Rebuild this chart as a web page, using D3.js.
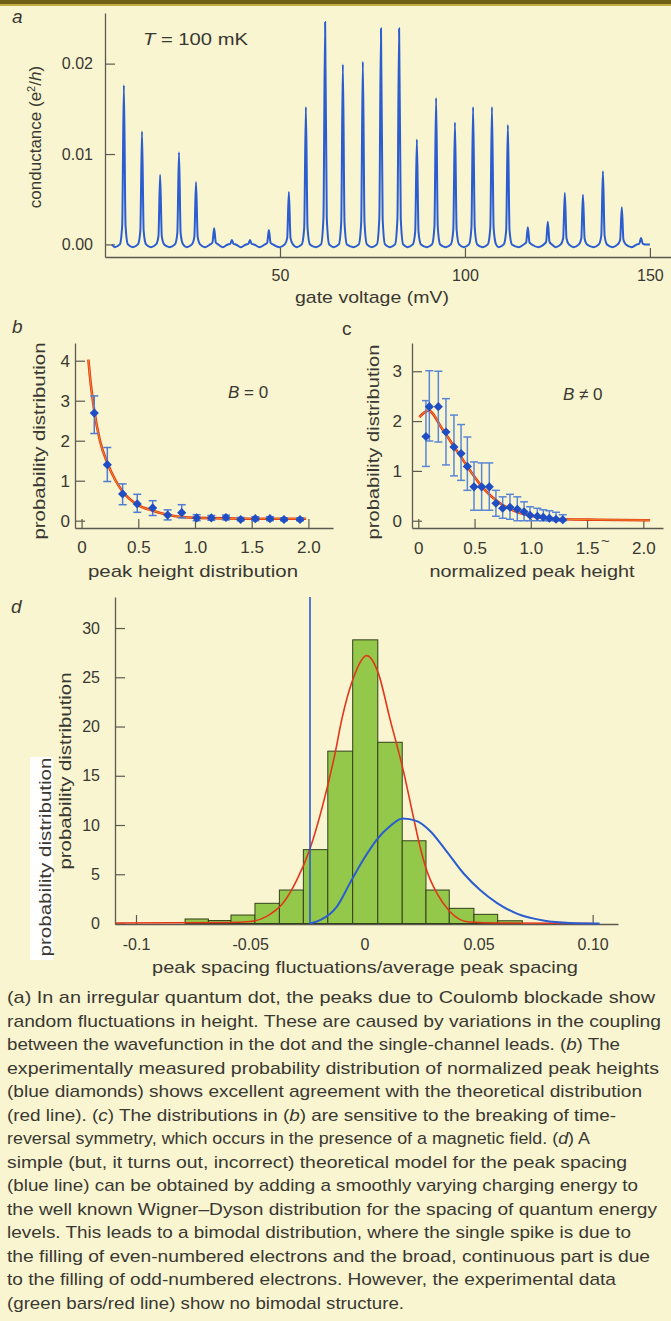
<!DOCTYPE html>
<html>
<head>
<meta charset="utf-8">
<script src="https://cdn.jsdelivr.net/npm/d3@7"></script>
<style>
  body { margin: 0; background: #f8f5d0; }
  svg { display: block; font-family: "Liberation Sans", Arial, sans-serif; }
</style>
</head>
<body>
<script>
// ---------- panel a: conductance peaks ----------
const gateVoltage = [7.8, 12.7, 17.6, 22.7, 27.3, 32.2, 37.0, 41.9, 47.0, 52.4, 57.0, 62.2, 67.0, 72.4, 77.3,
  82.2, 87.0, 92.2, 97.3, 102.2, 107.3, 111.6, 117.0, 122.4, 127.0, 131.9, 137.3, 142.4, 147.6];
const peakConductance = [0.0176, 0.0125, 0.0077, 0.0102, 0.0069, 0.0018, 0.0005, 0.0005, 0.0016, 0.0058, 0.0152,
  0.0246, 0.0199, 0.0202, 0.0239, 0.0239, 0.0116, 0.0162, 0.0135, 0.0152, 0.0152, 0.0132, 0.0019, 0.0025,
  0.0057, 0.0055, 0.0081, 0.0041, 0.0007];
const aXTicks = [50, 100, 150];
const aYTicks = [0, 0.01, 0.02];

// ---------- panel b: B = 0 ----------
const bHeight = [0.112, 0.227, 0.362, 0.491, 0.627, 0.759, 0.883, 1.015, 1.144, 1.273, 1.403, 1.532, 1.661, 1.785, 1.926];
const bProb = [2.69, 1.4, 0.67, 0.42, 0.32, 0.14, 0.2, 0.07, 0.07, 0.08, 0.03, 0.05, 0.05, 0.03, 0.03];
const bErrLow = [2.18, 0.98, 0.4, 0.21, 0.13, 0.02, 0.07, 0.0, 0.01, 0.02, 0.0, 0.0, 0.0, 0.0, 0.0];
const bErrHigh = [3.12, 1.83, 0.92, 0.66, 0.5, 0.27, 0.4, 0.15, 0.13, 0.14, 0.08, 0.1, 0.1, 0.07, 0.07];
const bFitX = [0.06, 0.074, 0.112, 0.162, 0.227, 0.295, 0.362, 0.491, 0.627, 0.759, 1.015, 1.48, 1.98];
const bFitY = [4.03, 3.6, 2.75, 2.0, 1.45, 1.03, 0.73, 0.4, 0.25, 0.15, 0.07, 0.05, 0.05];

// ---------- panel c: B != 0 ----------
const cHeight = [0.068, 0.098, 0.178, 0.246, 0.317, 0.38, 0.436, 0.495, 0.563, 0.631, 0.69, 0.75, 0.815, 0.88,
  0.94, 0.993, 1.058, 1.111, 1.165, 1.224, 1.284];
const cProb = [1.69, 2.29, 2.29, 1.78, 1.48, 1.35, 1.09, 0.68, 0.68, 0.68, 0.35, 0.25, 0.27, 0.23, 0.18, 0.11,
  0.09, 0.07, 0.05, 0.03, 0.02];
const cErrLow = [1.09, 1.6, 1.58, 1.12, 0.9, 0.81, 0.61, 0.21, 0.21, 0.21, 0.09, 0.05, 0.03, 0.0, 0.0, 0.0, 0.0,
  0.0, 0.0, 0.0, 0.0];
const cErrHigh = [2.41, 3.01, 3.0, 2.45, 2.12, 1.93, 1.68, 1.18, 1.16, 1.16, 0.61, 0.48, 0.53, 0.48, 0.38, 0.28,
  0.25, 0.22, 0.2, 0.17, 0.12];
const cFitX = [0.009, 0.089, 0.222, 0.341, 0.46, 0.578, 0.726, 0.874, 1.052, 1.289, 1.6, 2.06];
const cFitY = [2.08, 2.21, 1.81, 1.41, 1.01, 0.65, 0.35, 0.18, 0.08, 0.03, 0.02, 0.01];
const bcXTicks = [0, 0.5, 1.0, 1.5, 2.0];

// ---------- panel d: peak spacing ----------
const binEdges = [-0.0785, -0.0683, -0.0584, -0.0479, -0.0372, -0.0267, -0.0160, -0.0051, 0.0059, 0.0166,
  0.0270, 0.0372, 0.0480, 0.0584, 0.0692];
const binCounts = [0.46, 0.3, 0.86, 2.05, 3.4, 7.5, 17.5, 28.8, 18.4, 8.4, 3.4, 1.54, 0.93, 0.28];
const dFitX = [-0.109, -0.06, -0.05, -0.043, -0.0355, -0.0296, -0.0238, -0.018, -0.0128, -0.0099, -0.005, 0.001,
  0.006, 0.0113, 0.0171, 0.0215, 0.0244, 0.0273, 0.0317, 0.0375, 0.046, 0.06, 0.1];
const dFitY = [0.05, 0.1, 0.2, 0.7, 2.1, 4.4, 7.6, 12.2, 17.3, 20.7, 24.8, 27.2, 25.5, 20.7, 15.5, 10.8, 7.8,
  5.4, 3.1, 1.2, 0.15, 0.05, 0.0];
const dModelX = [-0.0238, -0.0194, -0.015, -0.0121, -0.0063, -0.0004, 0.0054, 0.0113, 0.0168, 0.023, 0.0288,
  0.0361, 0.0434, 0.0507, 0.058, 0.0668, 0.0784, 0.09, 0.103];
const dModelY = [0, 0.35, 1.0, 1.7, 4.1, 6.5, 8.5, 9.9, 10.65, 10.4, 9.4, 7.3, 5.1, 3.4, 2.1, 1.0, 0.3, 0.05, 0];
const dSpikeX = -0.0238;
const dXTicks = [-0.1, -0.05, 0, 0.05, 0.1];
const dXLabels = ["-0.1", "-0.05", "0", "0.05", "0.10"];
const dYTicks = [0, 5, 10, 15, 20, 25, 30];

// ---------- caption ----------
const captionLines = [
  [["(a) In an irregular quantum dot, the peaks due to Coulomb blockade show"]],
  [["random fluctuations in height. These are caused by variations in the coupling"]],
  [["between the wavefunction in the dot and the single-channel leads. ("], ["b", 1], [") The"]],
  [["experimentally measured probability distribution of normalized peak heights"]],
  [["(blue diamonds) shows excellent agreement with the theoretical distribution"]],
  [["(red line). ("], ["c", 1], [") The distributions in ("], ["b", 1], [") are sensitive to the breaking of time-"]],
  [["reversal symmetry, which occurs in the presence of a magnetic field. ("], ["d", 1], [") A"]],
  [["simple (but, it turns out, incorrect) theoretical model for the peak spacing"]],
  [["(blue line) can be obtained by adding a smoothly varying charging energy to"]],
  [["the well known Wigner\u2013Dyson distribution for the spacing of quantum energy"]],
  [["levels. This leads to a bimodal distribution, where the single spike is due to"]],
  [["the filling of even-numbered electrons and the broad, continuous part is due"]],
  [["to the filling of odd-numbered electrons. However, the experimental data"]],
  [["(green bars/red line) show no bimodal structure."]]
];
const captionEnds = [655, 661, 620, 659, 642, 616, 590, 627, 638, 657, 631, 650, 616, 404];

const textColor = "#3a3832";
const axisColor = "#5c5a50";
const blue = "#2b5cd0";
const red = "#e2361c";

const svg = d3.select("body").append("svg").attr("width", 671).attr("height", 1321);

svg.append("rect").attr("width", 671).attr("height", 1321).attr("fill", "#f8f5d0");
svg.append("rect").attr("width", 671).attr("height", 4).attr("fill", "#6f5f16");
svg.append("rect").attr("y", 4).attr("width", 671).attr("height", 2).attr("fill", "#c4ac42");

function styleAxis(g, fontSize) {
  g.select(".domain").attr("stroke", axisColor).attr("stroke-width", 1.3);
  g.selectAll(".tick line").attr("stroke", axisColor).attr("stroke-width", 1.2);
  g.selectAll(".tick text").attr("fill", textColor).attr("font-size", fontSize).attr("font-family", null);
}

function drawAxes(x, y, opts) {
  const gx = svg.append("g")
    .attr("transform", "translate(0," + opts.xAxisY + ")")
    .call(d3.axisBottom(x).tickValues(opts.xTicks).tickSize(-9).tickSizeOuter(0)
      .tickFormat((d, i) => opts.xLabels[i]));
  styleAxis(gx, opts.fontSize);
  gx.selectAll(".tick text").attr("y", opts.xLabelOffset).attr("dy", 0);

  const gy = svg.append("g")
    .attr("transform", "translate(" + opts.yAxisX + ",0)")
    .call(d3.axisLeft(y).tickValues(opts.yTicks).tickSize(-10).tickSizeOuter(0)
      .tickPadding(opts.yPad).tickFormat((d, i) => opts.yLabels[i]));
  styleAxis(gy, opts.fontSize);
}

function label(txt, x, y, opts) {
  const t = svg.append("text")
    .attr("x", x).attr("y", y)
    .attr("fill", textColor)
    .attr("font-size", opts.size || 17)
    .attr("text-anchor", opts.anchor || "start");
  if (opts.italic) t.attr("font-style", "italic");
  if (opts.length) t.attr("textLength", opts.length).attr("lengthAdjust", "spacingAndGlyphs");
  if (opts.rotate) t.attr("transform", "rotate(-90," + x + "," + y + ")");
  t.text(txt);
  return t;
}

function errorDiamonds(x, y, xs, ys, lo, hi, errColor) {
  const g = svg.append("g");
  xs.forEach((v, i) => {
    const cx = x(v);
    g.append("line").attr("x1", cx).attr("x2", cx).attr("y1", y(lo[i])).attr("y2", y(hi[i]))
      .attr("stroke", errColor).attr("stroke-width", 1.5);
    [lo[i], hi[i]].forEach(e => {
      g.append("line").attr("x1", cx - 4).attr("x2", cx + 4).attr("y1", y(e)).attr("y2", y(e))
        .attr("stroke", errColor).attr("stroke-width", 1.5);
    });
  });
  g.selectAll("path.dm").data(xs).join("path")
    .attr("d", d3.symbol(d3.symbolSquare, 42)())
    .attr("transform", (v, i) => "translate(" + x(v) + "," + y(ys[i]) + ") rotate(45)")
    .attr("fill", "#1f4ec4");
}

// ================= panel a =================
const xA = d3.scaleLinear().domain([2.7, 155.7]).range([105, 671]);
const yA = d3.scaleLinear().domain([-0.00139, 0.0256]).range([257, 13]);

drawAxes(xA, yA, {
  xAxisY: 257, yAxisX: 105, xTicks: aXTicks, xLabels: aXTicks.map(String),
  yTicks: aYTicks, yLabels: aYTicks.map(d => d.toFixed(2)), xLabelOffset: 24, yPad: 12, fontSize: 16
});

const baseDip = -0.0003;
const tracePts = [[4.6, 0]];
gateVoltage.forEach((v, i) => {
  const g = peakConductance[i];
  tracePts.push([v - 2.5, baseDip], [v - 1.1, 0], [v - 0.45, g * 0.12], [v, g], [v + 0.45, g * 0.12], [v + 1.1, 0]);
});
tracePts.push([150, 0]);

svg.append("path")
  .attr("d", d3.line().x(d => xA(d[0])).y(d => yA(d[1])).curve(d3.curveMonotoneX)(tracePts))
  .attr("fill", "none").attr("stroke", blue).attr("stroke-width", 2).attr("stroke-linejoin", "round");

label("a", 12, 23, { size: 19, italic: true });
const tLabel = svg.append("text").attr("x", 143).attr("y", 45).attr("fill", textColor).attr("font-size", 17)
  .attr("textLength", 105).attr("lengthAdjust", "spacingAndGlyphs");
tLabel.append("tspan").attr("font-style", "italic").text("T");
tLabel.append("tspan").text(" = 100 mK");
label("gate voltage (mV)", 372, 303, { anchor: "middle", length: 154 });
const condLabel = svg.append("text").attr("x", 35).attr("y", 137).attr("fill", textColor).attr("font-size", 17)
  .attr("text-anchor", "middle").attr("dy", "0.35em")
  .attr("transform", "rotate(-90,35,137)");
condLabel.append("tspan").text("conductance (e");
condLabel.append("tspan").attr("font-size", 11).attr("baseline-shift", "super").text("2");
condLabel.append("tspan").text("/");
condLabel.append("tspan").attr("font-style", "italic").text("h");
condLabel.append("tspan").text(")");

// ================= panel b =================
const xB = d3.scaleLinear().domain([-0.058, 2.217]).range([75, 333]);
const yB = d3.scaleLinear().domain([-0.1825, 4.443]).range([528, 343]);
drawAxes(xB, yB, {
  xAxisY: 528, yAxisX: 75, xTicks: bcXTicks, xLabels: ["0", "0.5", "1.0", "1.5", "2.0"],
  yTicks: [0, 1, 2, 3, 4], yLabels: ["0", "1", "2", "3", "4"], xLabelOffset: 25, yPad: 5, fontSize: 17
});
svg.append("path")
  .attr("d", d3.line().x((d, i) => xB(d)).y((d, i) => yB(bFitY[i])).curve(d3.curveMonotoneX)(bFitX))
  .attr("fill", "none").attr("stroke", red).attr("stroke-width", 2.6);
svg.append("path")
  .attr("d", d3.line().x((d, i) => xB(d)).y((d, i) => yB(bFitY[i])).curve(d3.curveMonotoneX)(bFitX))
  .attr("fill", "none").attr("stroke", "#f5a020").attr("stroke-width", 0.8);
errorDiamonds(xB, yB, bHeight, bProb, bErrLow, bErrHigh, "#4f7bd4");

label("b", 12, 333, { size: 19, italic: true });
const bLab = svg.append("text").attr("x", 228).attr("y", 398).attr("fill", textColor).attr("font-size", 17);
bLab.append("tspan").attr("font-style", "italic").text("B");
bLab.append("tspan").text(" = 0");
label("peak height distribution", 193, 577, { anchor: "middle", length: 210 });
label("probability distribution", 39, 441, { anchor: "middle", length: 197, rotate: true }).attr("dy", "0.35em");

// ================= panel c =================
const xC = d3.scaleLinear().domain([-0.056, 2.175]).range([412, 663]);
const yC = d3.scaleLinear().domain([-0.146, 3.567]).range([528, 343]);
drawAxes(xC, yC, {
  xAxisY: 528, yAxisX: 412, xTicks: bcXTicks, xLabels: ["0", "0.5", "1.0", "1.5", "2.0"],
  yTicks: [0, 1, 2, 3], yLabels: ["0", "1", "2", "3"], xLabelOffset: 26, yPad: 10, fontSize: 17
});
svg.append("path")
  .attr("d", d3.line().x(d => xC(d)).y((d, i) => yC(cFitY[i])).curve(d3.curveMonotoneX)(cFitX))
  .attr("fill", "none").attr("stroke", red).attr("stroke-width", 2.6);
svg.append("path")
  .attr("d", d3.line().x(d => xC(d)).y((d, i) => yC(cFitY[i])).curve(d3.curveMonotoneX)(cFitX))
  .attr("fill", "none").attr("stroke", "#f5a020").attr("stroke-width", 0.8);
errorDiamonds(xC, yC, cHeight, cProb, cErrLow, cErrHigh, "#5b86d8");

label("c", 342, 335, { size: 19 });
const cLab = svg.append("text").attr("x", 563).attr("y", 400).attr("fill", textColor).attr("font-size", 17);
cLab.append("tspan").attr("font-style", "italic").text("B");
cLab.append("tspan").text(" \u2260 0");
label("~", 601, 546, { size: 15 });
label("normalized peak height", 532, 577, { anchor: "middle", length: 205 });
label("probability distribution", 373, 442, { anchor: "middle", length: 195, rotate: true }).attr("dy", "0.35em");

// ================= panel d =================
const xD = d3.scaleLinear().domain([-0.1092, 0.1111]).range([115, 618]);
const yD = d3.scaleLinear().domain([-0.05, 33.15]).range([924, 597]);
drawAxes(xD, yD, {
  xAxisY: 924, yAxisX: 115, xTicks: dXTicks, xLabels: dXLabels,
  yTicks: dYTicks, yLabels: dYTicks.map(String), xLabelOffset: 26, yPad: 15, fontSize: 16
});

svg.append("g").selectAll("rect").data(binCounts).join("rect")
  .attr("x", (d, i) => xD(binEdges[i]))
  .attr("width", (d, i) => xD(binEdges[i + 1]) - xD(binEdges[i]))
  .attr("y", d => yD(d))
  .attr("height", d => yD(0) - yD(d))
  .attr("fill", "#93c84a").attr("stroke", "#34401c").attr("stroke-width", 1);

svg.append("path")
  .attr("d", d3.line().x(d => xD(d)).y((d, i) => yD(dFitY[i])).curve(d3.curveMonotoneX)(dFitX))
  .attr("fill", "none").attr("stroke", red).attr("stroke-width", 1.6);
svg.append("path")
  .attr("d", d3.line().x(d => xD(d)).y((d, i) => yD(dModelY[i])).curve(d3.curveMonotoneX)(dModelX))
  .attr("fill", "none").attr("stroke", blue).attr("stroke-width", 2);
svg.append("line")
  .attr("x1", xD(dSpikeX)).attr("x2", xD(dSpikeX)).attr("y1", yD(0)).attr("y2", yD(33.15))
  .attr("stroke", blue).attr("stroke-width", 1.6);

label("d", 11, 613, { size: 19, italic: true });
svg.append("rect").attr("x", 30).attr("y", 757).attr("width", 23).attr("height", 203).attr("fill", "#ffffff");
label("probability distribution", 51, 857, { anchor: "middle", length: 199, rotate: true });
label("probability distribution", 71, 771, { anchor: "middle", length: 197, rotate: true });
label("peak spacing fluctuations/average peak spacing", 365, 973, { anchor: "middle", length: 426 });

// ================= caption =================
captionLines.forEach((segs, i) => {
  const t = svg.append("text")
    .attr("x", 7).attr("y", 1003 + i * 23.5)
    .attr("fill", textColor).attr("font-size", 17)
    .attr("textLength", captionEnds[i] - 7).attr("lengthAdjust", "spacingAndGlyphs");
  segs.forEach(s => {
    const sp = t.append("tspan").text(s[0]);
    if (s[1]) sp.attr("font-style", "italic");
  });
});
</script>
</body>
</html>
